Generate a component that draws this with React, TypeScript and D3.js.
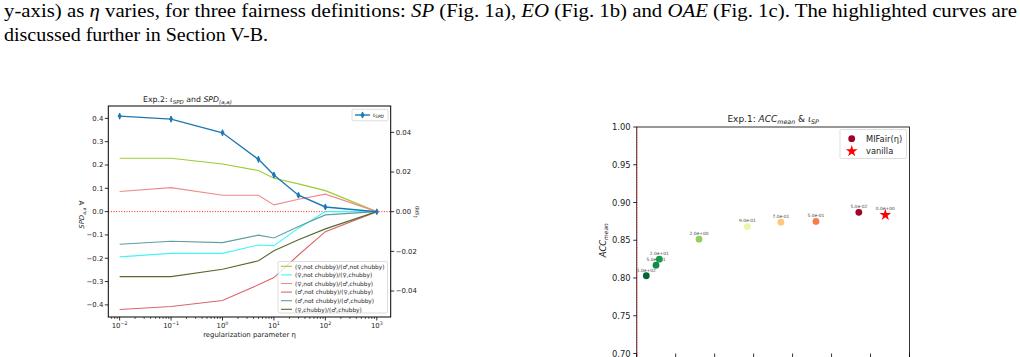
import React, { useEffect, useRef } from 'react';
import * as d3 from 'd3';

// Exp.2 (left): regularization parameter eta vs SPD per group pair, and iota_SPD on the twin axis
const etas = [0.01, 0.1, 1, 5, 10, 30, 100, 1000];
const iotaSPD = [0.0482, 0.0467, 0.0398, 0.0264, 0.0185, 0.0083, 0.0024, 0.0];
const iotaErr = [0.0008, 0.0008, 0.0008, 0.0008, 0.0008, 0.0006, 0.0006, 0.0005];

const pairLabels = [
  '(♀,not chubby)/(♂,not chubby)',
  '(♀,not chubby)/(♀,chubby)',
  '(♀,not chubby)/(♂,chubby)',
  '(♂,not chubby)/(♀,chubby)',
  '(♂,not chubby)/(♂,chubby)',
  '(♀,chubby)/(♂,chubby)',
];
const pairColors = ['#9acd32', '#3ff5f5', '#f08a8a', '#d9676b', '#5f9ea0', '#556b2f'];
const spdFNC_MNC = [0.229, 0.229, 0.204, 0.176, 0.143, 0.119, 0.09, 0];
const spdFNC_FC = [-0.194, -0.179, -0.179, -0.143, -0.146, -0.071, 0.0, 0];
const spdFNC_MC = [0.086, 0.103, 0.07, 0.07, 0.029, 0.053, 0.075, 0];
const spdMNC_FC = [-0.42, -0.407, -0.381, -0.314, -0.283, -0.186, -0.086, 0];
const spdMNC_MC = [-0.14, -0.127, -0.133, -0.101, -0.113, -0.064, -0.014, 0];
const spdFC_MC = [-0.279, -0.279, -0.247, -0.211, -0.168, -0.121, -0.074, 0];
const pairSeries = [spdFNC_MNC, spdFNC_FC, spdFNC_MC, spdMNC_FC, spdMNC_MC, spdFC_MC];

const leftTicks = [-0.4, -0.3, -0.2, -0.1, 0.0, 0.1, 0.2, 0.3, 0.4];
const rightTicks = [-0.04, -0.02, 0.0, 0.02, 0.04];
const decadeExps = [-2, -1, 0, 1, 2, 3];

// Exp.1 (right): iota_SP vs ACC_mean per eta
const etaLabels = ['1.0e+02', '5.0e+01', '2.0e+01', '2.0e+00', '9.0e-01', '7.0e-01', '5.0e-01', '5.0e-02'];
const iotaSP = [0.00123, 0.00248, 0.0029, 0.008, 0.0142, 0.0185, 0.023, 0.0285];
const accMean = [0.803, 0.817, 0.825, 0.8514, 0.868, 0.874, 0.875, 0.887];
const pointColors = ['#006837', '#118a45', '#1a9850', '#91cf60', '#eef5a8', '#fdc877', '#f67c4a', '#a50026'];
const vanillaIota = 0.0319;
const vanillaAcc = 0.8835;
const vanillaLabel = '0.0e+00';
const accTicks = [0.7, 0.75, 0.8, 0.85, 0.9, 0.95, 1.0];
const iotaTicks = [0, 0.005, 0.01, 0.015, 0.02, 0.025, 0.03, 0.035];

const minus = (s: string) => s.replace('-', '\u2212');

const App: React.FC = () => {
  const svgRef = useRef<SVGSVGElement>(null);

  useEffect(() => {
    document.body.style.margin = '0';
    if (!svgRef.current) return;
    const svg = d3.select(svgRef.current);
    svg.selectAll('*').remove();

    // ---------- caption ----------
    const cap1 = svg.append('text')
      .attr('x', 4).attr('y', 17)
      .attr('font-family', '"Liberation Serif", serif')
      .attr('font-size', 19)
      .attr('textLength', 1013)
      .attr('lengthAdjust', 'spacingAndGlyphs');
    const parts1: [string, boolean][] = [
      ['y-axis) as ', false], ['η', true], [' varies, for three fairness definitions: ', false],
      ['SP', true], [' (Fig. 1a), ', false], ['EO', true], [' (Fig. 1b) and ', false],
      ['OAE', true], [' (Fig. 1c). The highlighted curves are', false],
    ];
    parts1.forEach(([t, it]) => cap1.append('tspan').attr('font-style', it ? 'italic' : 'normal').text(t));
    svg.append('text')
      .attr('x', 4).attr('y', 41)
      .attr('font-family', '"Liberation Serif", serif')
      .attr('font-size', 19)
      .attr('textLength', 264)
      .attr('lengthAdjust', 'spacingAndGlyphs')
      .text('discussed further in Section V-B.');

    const font = '"DejaVu Sans", sans-serif';

    // ---------- left chart ----------
    const L = { left: 108.3, right: 390.7, top: 106, bottom: 317 };
    const x = d3.scaleLog().domain([Math.pow(10, -2.22), Math.pow(10, 3.27)]).range([L.left, L.right]);
    const yL = d3.scaleLinear().domain([-0.452, 0.453]).range([L.bottom, L.top]);
    const yR = d3.scaleLinear().domain([-0.0531, 0.0533]).range([L.bottom, L.top]);

    const gl = svg.append('g');
    const clip = svg.append('defs').append('clipPath').attr('id', 'clipL');
    clip.append('rect').attr('x', L.left).attr('y', L.top).attr('width', L.right - L.left).attr('height', L.bottom - L.top);

    const plot = gl.append('g').attr('clip-path', 'url(#clipL)');

    // zero line
    plot.append('line')
      .attr('x1', L.left).attr('x2', L.right)
      .attr('y1', yL(0)).attr('y2', yL(0))
      .attr('stroke', 'red').attr('stroke-width', 0.9).attr('stroke-dasharray', '1,1.6');

    const lineL = d3.line<number>().x((_, i) => x(etas[i])).y(d => yL(d));
    pairSeries.forEach((s, i) => {
      plot.append('path').datum(s)
        .attr('fill', 'none').attr('stroke', pairColors[i]).attr('stroke-width', 1.1)
        .attr('d', lineL);
    });

    // iota_SPD on twin axis
    const lineR = d3.line<number>().x((_, i) => x(etas[i])).y(d => yR(d));
    const blue = '#1f77b4';
    plot.append('path').datum(iotaSPD)
      .attr('fill', 'none').attr('stroke', blue).attr('stroke-width', 1.4)
      .attr('d', lineR);
    iotaSPD.forEach((v, i) => {
      const cx = x(etas[i]);
      plot.append('line')
        .attr('x1', cx).attr('x2', cx)
        .attr('y1', yR(v - iotaErr[i]) + 1.5).attr('y2', yR(v + iotaErr[i]) - 1.5)
        .attr('stroke', blue).attr('stroke-width', 1.3);
      plot.append('path')
        .attr('d', d3.symbol(d3.symbolDiamond, 14)())
        .attr('transform', `translate(${cx},${yR(v)})`)
        .attr('fill', blue);
    });

    // frame
    gl.append('rect')
      .attr('x', L.left).attr('y', L.top)
      .attr('width', L.right - L.left).attr('height', L.bottom - L.top)
      .attr('fill', 'none').attr('stroke', '#000').attr('stroke-width', 1);

    // left ticks
    leftTicks.forEach(t => {
      gl.append('line').attr('x1', L.left - 3.5).attr('x2', L.left)
        .attr('y1', yL(t)).attr('y2', yL(t)).attr('stroke', '#000').attr('stroke-width', 0.8);
      gl.append('text').attr('x', L.left - 5).attr('y', yL(t) + 2.4)
        .attr('text-anchor', 'end').attr('font-family', font).attr('font-size', 6.9).attr('fill', '#222')
        .text(minus(t.toFixed(1)));
    });
    // right ticks
    rightTicks.forEach(t => {
      gl.append('line').attr('x1', L.right).attr('x2', L.right + 3.5)
        .attr('y1', yR(t)).attr('y2', yR(t)).attr('stroke', '#000').attr('stroke-width', 0.8);
      gl.append('text').attr('x', L.right + 5).attr('y', yR(t) + 2.4)
        .attr('font-family', font).attr('font-size', 6.9).attr('fill', '#222')
        .text(minus(t.toFixed(2)));
    });
    // x ticks (major + minor)
    decadeExps.forEach(e => {
      const v = Math.pow(10, e);
      gl.append('line').attr('x1', x(v)).attr('x2', x(v))
        .attr('y1', L.bottom).attr('y2', L.bottom + 3.5).attr('stroke', '#000').attr('stroke-width', 0.8);
      const tx = gl.append('text').attr('x', x(v)).attr('y', 327.8)
        .attr('text-anchor', 'middle').attr('font-family', font).attr('font-size', 6.9).attr('fill', '#222');
      tx.append('tspan').text('10');
      tx.append('tspan').attr('font-size', 4.8).attr('dy', -2.7).text(minus(String(e)));
    });
    d3.range(-3, 4).forEach(e => {
      d3.range(2, 10).forEach(m => {
        const v = m * Math.pow(10, e);
        if (x(v) < L.left || x(v) > L.right) return;
        gl.append('line').attr('x1', x(v)).attr('x2', x(v))
          .attr('y1', L.bottom).attr('y2', L.bottom + 2).attr('stroke', '#000').attr('stroke-width', 0.6);
      });
    });

    // axis labels + title
    gl.append('text').attr('x', (L.left + L.right) / 2).attr('y', 336.5)
      .attr('text-anchor', 'middle').attr('font-family', font).attr('font-size', 6.9).attr('fill', '#222')
      .text('regularization parameter η');
    const yl = gl.append('text').attr('transform', `translate(84,${yL(0) + 3}) rotate(-90)`)
      .attr('text-anchor', 'middle').attr('font-family', font).attr('font-size', 6.9).attr('fill', '#222');
    yl.append('tspan').attr('font-style', 'italic').text('SPD');
    yl.append('tspan').attr('font-size', 4.8).attr('dy', 1.6).attr('font-style', 'italic').text('a,a');
    yl.append('tspan').attr('dy', -1.6).text(' ∀');
    const yr = gl.append('text').attr('transform', `translate(417,${yR(0)}) rotate(-90)`)
      .attr('text-anchor', 'middle').attr('font-family', font).attr('font-size', 6.9).attr('fill', '#222');
    yr.append('tspan').attr('font-style', 'italic').text('ι');
    yr.append('tspan').attr('font-size', 4.8).attr('dy', 1.6).attr('font-style', 'italic').text('SPD');

    const title = gl.append('text').attr('x', 143).attr('y', 102)
      .attr('font-family', font).attr('font-size', 7.8).attr('fill', '#222');
    title.append('tspan').text('Exp.2: ');
    title.append('tspan').attr('font-style', 'italic').text('ι');
    title.append('tspan').attr('font-size', 5.5).attr('dy', 1.8).attr('font-style', 'italic').text('SPD');
    title.append('tspan').attr('dy', -1.8).text(' and ');
    title.append('tspan').attr('font-style', 'italic').text('SPD');
    title.append('tspan').attr('font-size', 5.5).attr('dy', 1.8).attr('font-style', 'italic').text('(a,a)');

    // legend top-right
    gl.append('rect').attr('x', 352).attr('y', 109.3).attr('width', 36).attr('height', 11.5).attr('rx', 1.5)
      .attr('fill', '#fff').attr('fill-opacity', 0.8).attr('stroke', '#d0d0d0').attr('stroke-width', 0.7);
    gl.append('line').attr('x1', 355).attr('x2', 370).attr('y1', 115).attr('y2', 115)
      .attr('stroke', blue).attr('stroke-width', 1.4);
    gl.append('line').attr('x1', 362.5).attr('x2', 362.5).attr('y1', 112).attr('y2', 118)
      .attr('stroke', blue).attr('stroke-width', 1.3);
    gl.append('path').attr('d', d3.symbol(d3.symbolDiamond, 14)())
      .attr('transform', 'translate(362.5,115)').attr('fill', blue);
    const lt = gl.append('text').attr('x', 373).attr('y', 116.5)
      .attr('font-family', font).attr('font-size', 6.2).attr('fill', '#222');
    lt.append('tspan').attr('font-style', 'italic').text('ι');
    lt.append('tspan').attr('font-size', 4.4).attr('dy', 1.4).attr('font-style', 'italic').text('SPD');

    // legend bottom-right
    gl.append('rect').attr('x', 278).attr('y', 261.5).attr('width', 109.5).attr('height', 51.5).attr('rx', 1.5)
      .attr('fill', '#fff').attr('fill-opacity', 0.8).attr('stroke', '#d0d0d0').attr('stroke-width', 0.7);
    pairLabels.forEach((lab, i) => {
      const yy = 266.3 + i * 8.6;
      gl.append('line').attr('x1', 281).attr('x2', 292).attr('y1', yy).attr('y2', yy)
        .attr('stroke', pairColors[i]).attr('stroke-width', 1.1);
      gl.append('text').attr('x', 295).attr('y', yy + 2.2)
        .attr('font-family', font).attr('font-size', 5.8).attr('fill', '#222').text(lab);
    });

    // ---------- right chart ----------
    const R = { left: 636.7, right: 909.5, top: 127, bottom: 353.5 };
    const xr = d3.scaleLinear().domain([0, 0.035]).range([R.left, R.right]);
    const ya = d3.scaleLinear().domain([0.7, 1.0]).range([R.bottom, R.top]);
    const gr = svg.append('g');

    gr.append('rect')
      .attr('x', R.left).attr('y', R.top)
      .attr('width', R.right - R.left).attr('height', R.bottom - R.top + 10)
      .attr('fill', 'none').attr('stroke', '#333').attr('stroke-width', 1);
    gr.append('line').attr('x1', xr(0)).attr('x2', xr(0)).attr('y1', R.top).attr('y2', 357)
      .attr('stroke', '#d02020').attr('stroke-width', 1.2).attr('stroke-dasharray', '1,1.5');

    accTicks.forEach(t => {
      gr.append('line').attr('x1', R.left - 3.5).attr('x2', R.left)
        .attr('y1', ya(t)).attr('y2', ya(t)).attr('stroke', '#000').attr('stroke-width', 0.8);
      gr.append('text').attr('x', R.left - 6).attr('y', ya(t) + 3)
        .attr('text-anchor', 'end').attr('font-family', font).attr('font-size', 8.4).attr('fill', '#222')
        .text(t.toFixed(2));
    });
    iotaTicks.forEach(t => {
      gr.append('line').attr('x1', xr(t)).attr('x2', xr(t))
        .attr('y1', R.bottom).attr('y2', R.bottom + 3.5).attr('stroke', '#000').attr('stroke-width', 0.8);
    });

    const yla = gr.append('text').attr('transform', `translate(606,${(R.top + R.bottom) / 2}) rotate(-90)`)
      .attr('text-anchor', 'middle').attr('font-family', font).attr('font-size', 8.4).attr('fill', '#222');
    yla.append('tspan').attr('font-style', 'italic').text('ACC');
    yla.append('tspan').attr('font-size', 5.9).attr('dy', 1.8).attr('font-style', 'italic').text('mean');

    const t2 = gr.append('text').attr('x', (R.left + R.right) / 2).attr('y', 121.5)
      .attr('text-anchor', 'middle').attr('font-family', font).attr('font-size', 9).attr('fill', '#222');
    t2.append('tspan').text('Exp.1: ');
    t2.append('tspan').attr('font-style', 'italic').text('ACC');
    t2.append('tspan').attr('font-size', 6.3).attr('dy', 2).attr('font-style', 'italic').text('mean');
    t2.append('tspan').attr('dy', -2).text(' & ');
    t2.append('tspan').attr('font-style', 'italic').text('ι');
    t2.append('tspan').attr('font-size', 6.3).attr('dy', 2).attr('font-style', 'italic').text('SP');

    iotaSP.forEach((v, i) => {
      gr.append('text').attr('x', xr(v)).attr('y', ya(accMean[i]) - 4.2)
        .attr('text-anchor', 'middle').attr('font-family', font).attr('font-size', 4.4).attr('fill', '#444')
        .text(etaLabels[i]);
    });
    iotaSP.forEach((v, i) => {
      gr.append('circle').attr('cx', xr(v)).attr('cy', ya(accMean[i])).attr('r', 3.4)
        .attr('fill', pointColors[i]);
    });
    gr.append('text').attr('x', xr(vanillaIota)).attr('y', ya(vanillaAcc) - 4.6)
      .attr('text-anchor', 'middle').attr('font-family', font).attr('font-size', 4.4).attr('fill', '#444')
      .text(vanillaLabel);
    gr.append('path').attr('d', d3.symbol(d3.symbolStar, 42)())
      .attr('transform', `translate(${xr(vanillaIota)},${ya(vanillaAcc)})`).attr('fill', 'red');

    // legend
    gr.append('rect').attr('x', 840).attr('y', 129.5).attr('width', 66.5).attr('height', 29).attr('rx', 1.5)
      .attr('fill', '#fff').attr('fill-opacity', 0.8).attr('stroke', '#d0d0d0').attr('stroke-width', 0.7);
    gr.append('circle').attr('cx', 851.7).attr('cy', 138.7).attr('r', 3.4).attr('fill', '#a50026');
    gr.append('text').attr('x', 866).attr('y', 141.7)
      .attr('font-family', font).attr('font-size', 8.3).attr('fill', '#222').text('MIFair(η)');
    gr.append('path').attr('d', d3.symbol(d3.symbolStar, 42)())
      .attr('transform', 'translate(851.7,151.2)').attr('fill', 'red');
    gr.append('text').attr('x', 866).attr('y', 154.1)
      .attr('font-family', font).attr('font-size', 8.3).attr('fill', '#222').text('vanilla');
  }, []);

  return (
    <svg ref={svgRef} width={1020} height={357}
      style={{ position: 'absolute', left: 0, top: 0, background: '#fff', display: 'block' }} />
  );
};

export default App;
